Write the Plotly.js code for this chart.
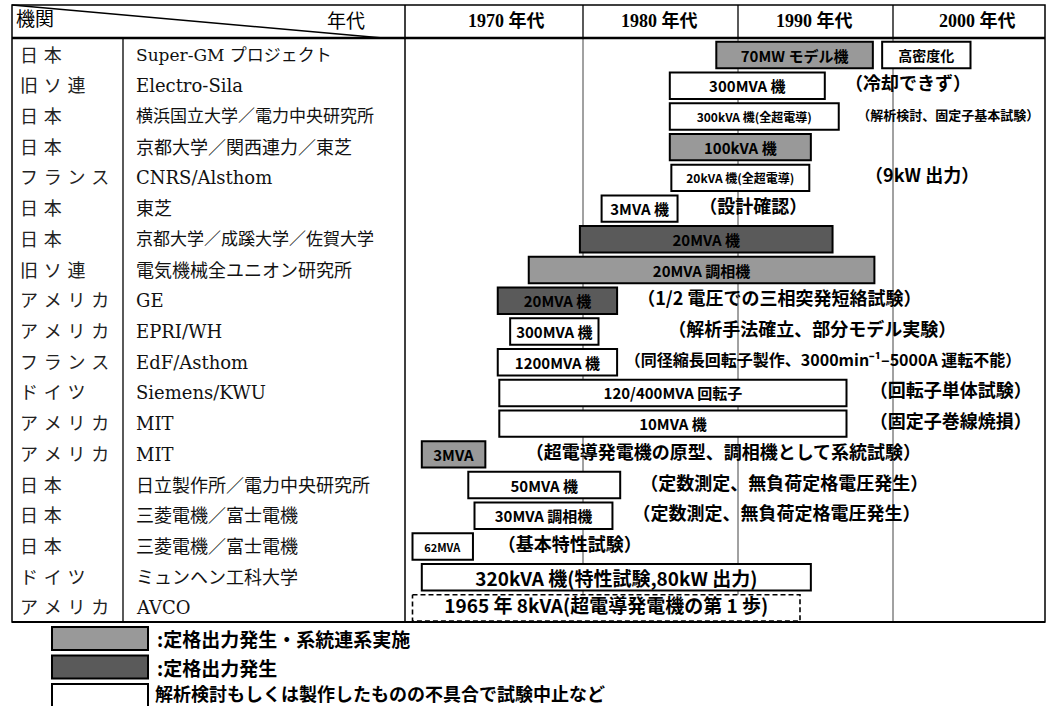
<!DOCTYPE html>
<html><head><meta charset="utf-8">
<script src="https://cdn.plot.ly/plotly-3.0.1.min.js"></script>
<style>html,body{margin:0;padding:0;background:#fff;}#chart{width:1053px;height:706px;}</style>
</head><body><div id="chart"></div>
<script>
// ---- table rows (left columns) ----
const countries = ['日本','旧ソ連','日本','日本','フランス','日本','日本','旧ソ連','アメリカ','アメリカ','フランス','ドイツ','アメリカ','アメリカ','日本','日本','日本','ドイツ','アメリカ'];
const institutions = ['Super-GM プロジェクト','Electro-Sila','横浜国立大学／電力中央研究所','京都大学／関西連力／東芝','CNRS/Alsthom','東芝','京都大学／成蹊大学／佐賀大学','電気機械全ユニオン研究所','GE','EPRI/WH','EdF/Asthom','Siemens/KWU','MIT','MIT','日立製作所／電力中央研究所','三菱電機／富士電機','三菱電機／富士電機','ミュンヘン工科大学','AVCO'];
const decades = ['1970 年代','1980 年代','1990 年代','2000 年代'];

// ---- bars (row index, start year, end year, label, status) ----
const barRow   = [0, 0, 1, 2, 3, 4, 5, 6, 7, 8, 9, 10, 11, 12, 13, 14, 15, 16, 17, 18];
const barStart = [1988.6, 1999.3, 1985.6, 1985.6, 1985.6, 1985.7, 1981.2, 1979.8, 1976.5, 1974.5, 1975.3, 1974.5, 1974.6, 1974.6, 1969.6, 1972.6, 1973.0, 1969.0, 1969.6, 1969.0];
const barEnd   = [1998.7, 2005.0, 1995.6, 1996.5, 1994.7, 1994.6, 1986.1, 1996.1, 1998.8, 1982.2, 1981.0, 1982.2, 1997.0, 1997.0, 1973.7, 1982.4, 1981.9, 1972.9, 1994.7, 1994.0];
const barLabel = ['70MW モデル機','高密度化','300MVA 機','300kVA 機(全超電導)','100kVA 機','20kVA 機(全超電導)','3MVA 機','20MVA 機','20MVA 調相機','20MVA 機','300MVA 機','1200MVA 機','120/400MVA 回転子','10MVA 機','3MVA','50MVA 機','30MVA 調相機','62MVA','320kVA 機(特性試験,80kW 出力)','1965 年 8kVA(超電導発電機の第 1 歩)'];
const barStatus = ['grid','stop','stop','stop','grid','stop','stop','rated','grid','rated','stop','stop','stop','stop','grid','stop','stop','stop','stop','first'];

// ---- notes beside bars ----
const noteRow = [1, 2, 4, 5, 8, 9, 10, 11, 12, 13, 14, 15, 16];
const noteX   = [1996.9, 1997.7, 1998.2, 1987.5, 1983.5, 1985.5, 1982.7, 1998.5, 1998.5, 1976.3, 1983.7, 1983.2, 1974.5];
const noteText = ['（冷却できず）','（解析検討、固定子基本試験）','（9kW 出力）','（設計確認）','（1/2 電圧での三相突発短絡試験）','（解析手法確立、部分モデル実験）','（同径縮長回転子製作、3000min⁻¹–5000A 運転不能）','（回転子単体試験）','（固定子巻線焼損）','（超電導発電機の原型、調相機として系統試験）','（定数測定、無負荷定格電圧発生）','（定数測定、無負荷定格電圧発生）','（基本特性試験）'];

// ---- legend ----
const legendStatus = ['grid','rated','stop'];
const legendText = [':定格出力発生・系統連系実施',':定格出力発生','解析検討もしくは製作したものの不具合で試験中止など'];

const colors = {grid:'#999999', rated:'#5a5a5a', stop:'#ffffff', first:'#ffffff'};
const GOTHIC = "'Noto Sans CJK JP', sans-serif";
const SPACED = "'DejaVu Sans', 'Noto Sans CJK JP', sans-serif";
const SERIF = "'DejaVu Serif', 'Noto Sans CJK JP', serif";
const HSERIF = "'Liberation Serif', 'Noto Sans CJK JP', serif";

// style helpers (font sizes for condensed labels in the original)
const labelSize = t => t.includes('全超電導') ? 12 : t === '62MVA' ? 11 : t === '高密度化' ? 14 : (t.length > 18 ? 19 : 15);
const noteSize = t => t.includes('固定子基本') ? 13 : t.includes('3000min') ? 16 : 18;
const instSize = t => t.length >= 14 ? 17 : 18;
const spaced = t => t.split('').join(' ');

const W = 1053, H = 706, ML = 405, MR = 8, MT = 38, MB = 84;
const PW = W - ML - MR, PH = H - MT - MB;
const px = x => (x - ML) / PW;
const py = y => (H - MB - y) / PH;
const BAR_W = 0.86;

const traces = [];
['grid','rated','stop'].forEach(st => {
  const idx = barStatus.map((s,i)=>s===st?i:-1).filter(i=>i>=0);
  traces.push({
    type:'bar', orientation:'h',
    y: idx.map(i=>barRow[i]), base: idx.map(i=>barStart[i]), x: idx.map(i=>barEnd[i]-barStart[i]),
    width: BAR_W,
    marker:{color:colors[st], line:{color:'#000', width:2}},
    text: idx.map(i=>barLabel[i]), textposition:'inside', insidetextanchor:'middle', constraintext:'none',
    textfont:{family:GOTHIC, size: idx.map(i=>labelSize(barLabel[i])), color:'#000', weight:'bold'},
    hoverinfo:'skip', showlegend:false
  });
});
// dashed outline bar (AVCO)
barStatus.forEach((st,i) => {
  if (st !== 'first') return;
  const r = barRow[i], h = BAR_W/2, s = barStart[i], e = barEnd[i];
  traces.push({type:'scatter', mode:'lines', x:[s,e,e,s,s], y:[r-h,r-h,r+h,r+h,r-h],
    line:{color:'#000', width:1.6, dash:'5px,3px'}, fill:'toself', fillcolor:'#fff', hoverinfo:'skip', showlegend:false});
  traces.push({type:'scatter', mode:'text', x:[(s+e)/2], y:[r], text:[barLabel[i]], textposition:'middle center',
    textfont:{family:GOTHIC, size:labelSize(barLabel[i]), color:'#000', weight:'bold'}, hoverinfo:'skip', showlegend:false});
});
traces.push({type:'scatter', mode:'text', x:noteX, y:noteRow, text:noteText, textposition:'middle right',
  textfont:{family:GOTHIC, size:noteText.map(noteSize), color:'#000', weight:'bold'}, hoverinfo:'skip', showlegend:false, cliponaxis:false});

const shapes = [];
const line = (x0,y0,x1,y1,w) => shapes.push({type:'line', xref:'paper', yref:'paper', x0:px(x0), y0:py(y0), x1:px(x1), y1:py(y1), line:{color:'#000', width:w}});
// outer frame and header
shapes.push({type:'rect', xref:'paper', yref:'paper', x0:px(12), y0:py(5), x1:px(1045), y1:py(622), line:{color:'#000', width:1.5}, layer:'below'});
line(12,38,1045,38,2.5);
line(123,38,123,622,1.3);
line(405,5,405,622,1.5);
line(12,5,383,38,1.5);
line(12,622,1045,622,1.8);
// decade dividers (header + body)
[1980,1990,2000].forEach(y => {
  shapes.push({type:'line', xref:'x', yref:'paper', x0:y, x1:y, y0:1, y1:py(5), line:{color:'#000', width:1.3}});
  shapes.push({type:'line', xref:'x', yref:'paper', x0:y, x1:y, y0:0, y1:1, line:{color:'#444', width:1}, layer:'below'});
});
// legend swatches
legendStatus.forEach((st,i) => {
  const y0 = 627 + i*28.5;
  shapes.push({type:'rect', xref:'paper', yref:'paper', x0:px(52), x1:px(148), y0:py(y0), y1:py(y0+23), fillcolor:colors[st], line:{color:'#000', width:2}});
});

const annotations = [];
const ann = (x,y,text,o) => annotations.push(Object.assign({xref:'paper', yref:'paper', x:px(x), y:py(y), text, showarrow:false, xanchor:'left', yanchor:'middle', font:{family:HSERIF, size:19, color:'#000'}}, o||{}));
ann(14,19,'機関');
ann(367,22,'年代',{xanchor:'right'});
const decadeCenters = [506, 659, 814, 977];
decades.forEach((d,i)=>ann(decadeCenters[i],21,d,{xanchor:'center', font:{family:HSERIF, size:18, color:'#000', weight:'bold'}}));
countries.forEach((c,i)=>annotations.push({xref:'paper', yref:'y', x:px(18), y:i, text:spaced(c), showarrow:false, xanchor:'left', yanchor:'middle', font:{family:SPACED, size:18, color:'#222'}}));
institutions.forEach((c,i)=>annotations.push({xref:'paper', yref:'y', x:px(134), y:i, text:c, showarrow:false, xanchor:'left', yanchor:'middle', font:{family:SERIF, size:instSize(c), color:'#111'}}));
const legendY = [638.5, 667, 693];
legendText.forEach((t,i)=>ann(i===2?153:155, legendY[i], t, {font:{family:GOTHIC, size:i===2?18:19, color:'#000', weight:'bold'}}));

const layout = {
  width:W, height:H, margin:{l:ML, r:MR, t:MT, b:MB, pad:0},
  paper_bgcolor:'#fff', plot_bgcolor:'#fff',
  barmode:'overlay',
  xaxis:{range:[1980-178/15.5, 1980+462/15.5], showgrid:false, zeroline:false, showticklabels:false, ticks:'', showline:false, fixedrange:true},
  yaxis:{range:[(622-55)/30.72, (38-55)/30.72], showgrid:false, zeroline:false, showticklabels:false, ticks:'', showline:false, fixedrange:true},
  shapes, annotations, showlegend:false
};
Plotly.newPlot('chart', traces, layout, {displayModeBar:false, staticPlot:true});
</script></body></html>
